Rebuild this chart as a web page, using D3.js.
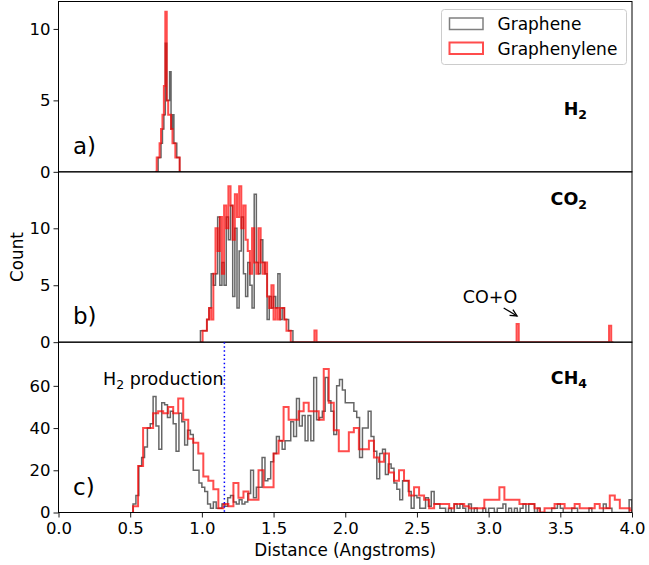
<!DOCTYPE html>
<html><head><meta charset="utf-8">
<script src="https://cdn.jsdelivr.net/npm/d3@7"></script>
<style>body{margin:0;background:#fff} text{font-family:"DejaVu Sans",sans-serif;fill:#000}</style>
</head><body><svg id="chart" width="649" height="565"></svg>
<script>
// ---------- data ----------
const xTicks = [0, 0.5, 1.0, 1.5, 2.0, 2.5, 3.0, 3.5, 4.0];
const seriesNames = ["Graphene", "Graphenylene"];
const panelLabels = ["a)", "b)", "c)"];
const moleculeLabels = [["H", "2"], ["CO", "2"], ["CH", "4"]];
const yTicksH2 = [0, 5, 10];
const yTicksCO2 = [0, 5, 10];
const yTicksCH4 = [0, 20, 40, 60];
const yMax = [11.92, 14.96, 80.7];

// H2 (panel a): bins start 0.675, width 0.01
const h2Start = 0.675, h2Width = 0.01;
const h2Graphene    = [0, 0, 1, 1, 2, 3, 4, 9, 5, 5, 7, 3, 4, 2, 2, 1, 1, 0];
const h2Graphenylene= [0, 1, 1, 2, 3, 4, 6, 11.2, 5, 4, 4, 3, 2, 2, 1, 1, 1, 0];

// CO2 (panel b): bins start 0.99, width 0.015
const co2Start = 0.99, co2Width = 0.015;
const co2Graphene = [1, 1, 1, 2, 3, 6, 5, 6, 11, 5, 7, 5, 11, 9, 12, 4, 10, 3, 8, 11,
                     6, 4, 7, 5, 3, 13, 7, 6, 9, 7, 6, 2, 4, 3, 4, 3, 6, 2, 3, 2, 2, 1, 1];
const co2Graphenylene = [0, 1, 1, 2, 3, 2, 6, 10, 8, 11, 6, 12, 10, 13.7, 12, 9, 13, 11, 13.7, 10,
                         12, 9, 8, 6, 10, 7, 6, 10, 7, 6, 7, 4, 3, 5, 2, 3, 2, 3, 3, 2, 1, 1, 0];
const co2GraphenyleneEnd = 3.87;
const co2GraphenyleneOutliers = [[1.79, 1.03], [3.195, 1.6], [3.85, 1.45]];

// CH4 (panel c)
const ch4GrapheneStart = 0.52, ch4GrapheneWidth = 0.02;
const ch4Graphene = [
  4, 8, 22, 26, 31, 40, 42, 55, 41, 30,
  52, 51, 45, 48, 42, 29, 47, 43, 32, 39,
  37, 20, 20, 14, 12, 10, 4, 2, 5, 2,
  2, 4, 3, 7, 8, 5, 4, 6, 4, 5,
  9, 20, 7, 12, 12, 26, 15, 16, 24, 28,
  36, 34, 30, 34, 34, 43, 36, 54, 41, 46,
  34, 46, 34, 64, 44, 45, 48, 64, 53, 48,
  37, 60, 63, 58, 52, 52, 52, 48, 45, 26,
  40, 40, 48, 36, 29, 16, 28, 30, 18, 23,
  21, 14, 11, 6, 15, 15, 10, 2, 8, 7,
  2, 2, 7, 3, 10, 4, 4, 2, 2, 0,
  2, 0, 4, 2, 4, 2, 0, 4, 0, 2,
  0, 0, 2, 0, 2, 2, 0, 2, 2, 4,
  0, 2, 0, 2, 0, 2, 4, 0, 4, 4,
  0, 2, 0, 0, 0, 0, 2, 2, 4, 2,
  0, 0, 0, 2, 2, 0, 0, 0, 0, 2,
  0, 0, 0, 0, 4, 2, 2, 0, 0, 0,
  0, 0, 0, 6];
const ch4GraphenyleneStart = 0.52, ch4GraphenyleneWidth = 0.035;
const ch4Graphenylene = [
  3, 22, 40, 40, 47, 48, 47, 50, 47, 54,
  44, 35, 33, 28, 17, 15, 11, 2, 4, 3,
  14, 7, 10, 6, 6, 20, 12, 12, 28, 34,
  50, 44, 44, 48, 52, 48, 48, 44, 68, 52,
  39, 29, 29, 38, 40, 30, 30, 34, 26, 24,
  28, 19, 15, 20, 15, 8, 12, 8, 6, 2,
  4, 4, 4, 2, 4, 4, 3, 2, 2, 2,
  6, 6, 6, 12, 6, 6, 6, 4, 4, 4,
  2, 0, 2, 2, 4, 4, 2, 2, 4, 2,
  2, 2, 4, 2, 2, 8, 6, 2, 2, 1];

const h2ProductionX = 1.157;
const coArrow = {from: [3.105, 3.0], to: [3.198, 2.3]};

// ---------- build ----------
function withOutliers(start, width, base, end, outliers) {
  const n = Math.round((end - start) / width);
  const arr = new Array(n).fill(0);
  base.forEach((v, i) => arr[i] = v);
  outliers.forEach(([x, v]) => { arr[Math.floor((x - start) / width + 1e-9)] = v; });
  return arr;
}
const co2GraphenyleneAll = withOutliers(co2Start, co2Width, co2Graphenylene, co2GraphenyleneEnd, co2GraphenyleneOutliers);

const panels = [
  {label: panelLabels[0], mol: moleculeLabels[0], ticks: yTicksH2, ymax: yMax[0],
   series: [{start: h2Start, width: h2Width, values: h2Graphene},
            {start: h2Start, width: h2Width, values: h2Graphenylene}]},
  {label: panelLabels[1], mol: moleculeLabels[1], ticks: yTicksCO2, ymax: yMax[1],
   series: [{start: co2Start, width: co2Width, values: co2Graphene},
            {start: co2Start, width: co2Width, values: co2GraphenyleneAll}]},
  {label: panelLabels[2], mol: moleculeLabels[2], ticks: yTicksCH4, ymax: yMax[2],
   series: [{start: ch4GrapheneStart, width: ch4GrapheneWidth, values: ch4Graphene},
            {start: ch4GraphenyleneStart, width: ch4GraphenyleneWidth, values: ch4Graphenylene}]}
];

const L = 58.5, R = 632, T = 1.5, B = 512.5;
const ph = (B - T) / 3;
const styles = [{stroke: "#000", op: 0.6, w: 1.5}, {stroke: "#ff0000", op: 0.7, w: 2}];
const svg = d3.select("#chart");
const x = d3.scaleLinear().domain([0, 4]).range([L, R]);
const tickFont = "16.5px";

function stepPoints(s) {
  const pts = [[s.start, 0]];
  s.values.forEach((v, i) => { pts.push([s.start + i * s.width, v]); pts.push([s.start + (i + 1) * s.width, v]); });
  pts.push([s.start + s.values.length * s.width, 0]);
  return pts;
}

const ys = [];
panels.forEach((p, pi) => {
  const top = T + pi * ph, bot = top + ph;
  const y = d3.scaleLinear().domain([0, p.ymax]).range([bot, top]);
  ys.push(y);
  const g = svg.append("g");
  const cid = "clip" + pi;
  svg.append("clipPath").attr("id", cid).append("rect")
    .attr("x", L).attr("y", top).attr("width", R - L).attr("height", ph);
  const line = d3.line().x(d => x(d[0])).y(d => y(d[1]));
  const pg = g.append("g").attr("clip-path", `url(#${cid})`);
  p.series.forEach((s, si) => {
    pg.append("path").attr("d", line(stepPoints(s)))
      .attr("fill", "none").attr("stroke", styles[si].stroke)
      .attr("stroke-opacity", styles[si].op).attr("stroke-width", styles[si].w)
      .attr("stroke-linejoin", "miter");
  });
  g.append("rect").attr("x", L).attr("y", top).attr("width", R - L).attr("height", ph)
    .attr("fill", "none").attr("stroke", "#000").attr("stroke-width", 1);
  const ax = g.append("g").attr("transform", `translate(${L},0)`)
    .call(d3.axisLeft(y).tickValues(p.ticks).tickSize(5).tickPadding(3).tickFormat(d3.format("d")));
  ax.select(".domain").remove();
  ax.selectAll("line").attr("stroke", "#000").attr("stroke-width", 0.9);
  ax.selectAll("text").style("font-size", tickFont).style("font-family", '"DejaVu Sans", sans-serif');
  g.append("text").attr("x", 73).attr("y", bot - 18).style("font-size", "23px").text(p.label);
});

const molY = [115, 205, 384];
panels.forEach((p, pi) => {
  const t = svg.append("text").attr("x", 587).attr("y", molY[pi]).attr("text-anchor", "end")
    .style("font-size", "17.5px").style("font-weight", "bold");
  t.append("tspan").text(p.mol[0]);
  t.append("tspan").attr("dy", 4).style("font-size", "12.5px").text(p.mol[1]);
});

const xa = svg.append("g").attr("transform", `translate(0,${B})`)
  .call(d3.axisBottom(x).tickValues(xTicks).tickSize(5).tickPadding(5).tickFormat(d3.format(".1f")));
xa.select(".domain").remove();
xa.selectAll("line").attr("stroke", "#000").attr("stroke-width", 0.9);
xa.selectAll("text").style("font-size", tickFont).style("font-family", '"DejaVu Sans", sans-serif');

svg.append("text").attr("x", (L + R) / 2).attr("y", 556).attr("text-anchor", "middle")
  .style("font-size", "16.8px").text("Distance (Angstroms)");
svg.append("text").attr("transform", "translate(23,257) rotate(-90)").attr("text-anchor", "middle")
  .style("font-size", "16.8px").text("Count");

const yc = ys[2];
svg.append("line").attr("x1", x(h2ProductionX)).attr("x2", x(h2ProductionX))
  .attr("y1", yc(yMax[2])).attr("y2", yc(0))
  .attr("stroke", "#0000ff").attr("stroke-width", 1.5).attr("stroke-dasharray", "1.5,2.6");
const hp = svg.append("text").attr("x", 103).attr("y", 385).style("font-size", "17.5px");
hp.append("tspan").text("H");
hp.append("tspan").attr("dy", 4).style("font-size", "12.5px").text("2");
hp.append("tspan").attr("dy", -4).text(" production");

const yb = ys[1];
svg.append("text").attr("x", 490).attr("y", 303).attr("text-anchor", "middle")
  .style("font-size", "17.5px").text("CO+O");
const ax1 = x(coArrow.from[0]), ay1 = yb(coArrow.from[1]);
const ax2 = x(coArrow.to[0]), ay2 = yb(coArrow.to[1]);
svg.append("line").attr("x1", ax1).attr("y1", ay1).attr("x2", ax2).attr("y2", ay2)
  .attr("stroke", "#000").attr("stroke-width", 1.3);
const ang = Math.atan2(ay2 - ay1, ax2 - ax1);
const hl = 7.5, hw = 0.45;
svg.append("path")
  .attr("d", `M${ax2 - hl * Math.cos(ang - hw)},${ay2 - hl * Math.sin(ang - hw)}L${ax2},${ay2}L${ax2 - hl * Math.cos(ang + hw)},${ay2 - hl * Math.sin(ang + hw)}`)
  .attr("fill", "none").attr("stroke", "#000").attr("stroke-width", 1.3);

const lg = svg.append("g");
lg.append("rect").attr("x", 441.5).attr("y", 9.5).attr("width", 185).attr("height", 55).attr("rx", 3)
  .attr("fill", "#fff").attr("fill-opacity", 0.8).attr("stroke", "#ccc").attr("stroke-width", 1);
seriesNames.forEach((n, i) => {
  const yy = 18 + i * 24.5;
  lg.append("rect").attr("x", 449.5).attr("y", yy).attr("width", 33.5).attr("height", 11.5)
    .attr("fill", "none").attr("stroke", styles[i].stroke).attr("stroke-opacity", i === 0 ? 0.5 : 0.7)
    .attr("stroke-width", styles[i].w);
  lg.append("text").attr("x", 497.5).attr("y", yy + 12).style("font-size", "17px").text(n);
});
</script></body></html>
